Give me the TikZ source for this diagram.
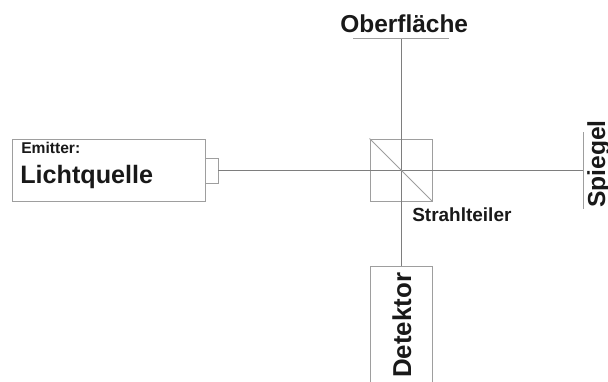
\documentclass[tikz,border=0pt]{standalone}
\usepackage{fontspec}
\setmainfont{Liberation Sans}
\definecolor{linegray}{gray}{0.62}
\tikzset{
  part/.style={draw=linegray, line width=0.65pt, inner sep=0pt, fill=white},
  label/.style={inner sep=0pt, font=\bfseries, text=black!90},
  strahl/.style={draw=linegray!80!black, line width=0.6pt},
}
\begin{document}
\begin{tikzpicture}[x=0.025cm,y=-0.025cm]
\clip (0,0) rectangle (608,382);
% the parts of the setup
\node[part, minimum width=193*0.025cm, minimum height=62*0.025cm] (emitter) at (108.5,170) {};
\node[part, minimum width=13*0.025cm, minimum height=25*0.025cm] (nub) at (211.5,170.5) {};
\node[part, fill=none, minimum width=62*0.025cm, minimum height=62*0.025cm] (cube) at (401,170) {};
\node[part, minimum width=62*0.025cm, minimum height=140*0.025cm] (detektor) at (401,336) {};
\coordinate (oberflaeche) at (401,38);
\coordinate (spiegel) at (583,170);
% the two beams
\draw[strahl] (nub.east |- spiegel) -- (spiegel);
\draw[strahl] (oberflaeche) -- (detektor.north);
\draw[part, fill=none] (cube.north west) -- (cube.south east);
% surface and mirror
\coordinate (oberflaeche links) at (353,38);
\coordinate (oberflaeche rechts) at (449,38);
\coordinate (spiegel oben) at (583,132);
\coordinate (spiegel unten) at (583,209);
\draw[part] (oberflaeche links) -- (oberflaeche rechts);
\draw[part] (spiegel oben) -- (spiegel unten);
% the labels
\node[label, anchor=base west, font=\bfseries\fontsize{11.1}{13}\selectfont] (emittertext) at (21,153) {Emitter:};
\node[label, anchor=base west, font=\bfseries\fontsize{17.9}{20}\selectfont] (lichtquelle) at (20,183) {Lichtquelle};
\node[label, anchor=base west, font=\bfseries\fontsize{13.5}{16}\selectfont] (strahlteiler) at (412,221) {Strahlteiler};
\node[label, anchor=base west, font=\bfseries\fontsize{17.4}{20}\selectfont] (oberflaechetext) at (340,32) {Oberfläche};
\node[label, anchor=base west, rotate=90, font=\bfseries\fontsize{18.4}{20}\selectfont] (detektortext) at (411,378) {Detektor};
\node[label, anchor=base west, rotate=90, font=\bfseries\fontsize{17.5}{20}\selectfont] (spiegeltext) at (605,208) {Spiegel};
\end{tikzpicture}
\end{document}
